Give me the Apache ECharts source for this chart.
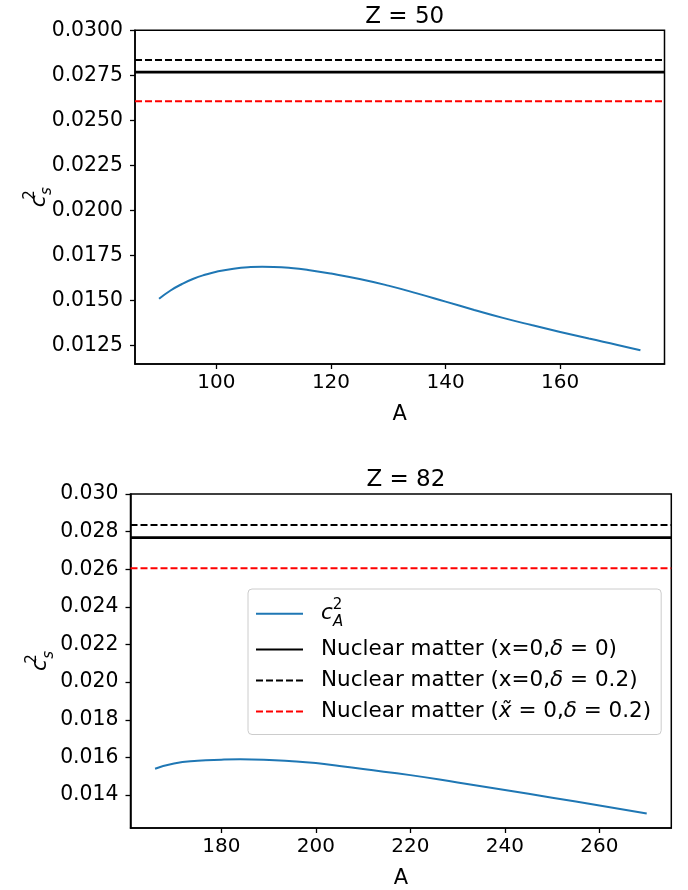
<!DOCTYPE html>
<html>
<head>
<meta charset="utf-8">
<script src="https://cdn.jsdelivr.net/npm/echarts@6/dist/echarts.min.js"></script>
<style>html,body{margin:0;padding:0;background:#fff}#c{width:688px;height:890px}</style>
</head>
<body>
<div id="c"></div>
<script>
// ---- data ----
const A_Z50 = [90, 92, 94, 96, 98, 100, 103, 106, 108, 110, 113, 116, 120, 125, 130, 135, 140, 145, 150, 155, 160, 165, 170, 174];
const c2_Z50 = [0.01510, 0.01556, 0.01592, 0.01621, 0.01643, 0.01660, 0.01677, 0.01686, 0.01688, 0.01687, 0.01681, 0.01670, 0.01650, 0.01620, 0.01583, 0.01540, 0.01494, 0.01448, 0.01404, 0.01364, 0.01326, 0.01289, 0.01254, 0.01224];
const A_Z82 = [166, 170, 175, 180, 184, 189, 195, 200, 205, 210, 220, 230, 240, 250, 260, 270];
const c2_Z82 = [0.01540, 0.01568, 0.01582, 0.01588, 0.01590, 0.01588, 0.01580, 0.01570, 0.01555, 0.01538, 0.01506, 0.01467, 0.01427, 0.01386, 0.01345, 0.01302];
const nmNames = ['Nuclear matter (x=0,δ = 0)', 'Nuclear matter (x=0,δ = 0.2)', 'Nuclear matter (x̃ = 0,δ = 0.2)'];
const nmValues = [0.02768, 0.02835, 0.02606];
const curveName = 'c_A^2';
const xTicks50 = [100, 120, 140, 160];
const yTicks50 = [0.0125, 0.0150, 0.0175, 0.0200, 0.0225, 0.0250, 0.0275, 0.0300];
const xTicks82 = [180, 200, 220, 240, 260];
const yTicks82 = [0.014, 0.016, 0.018, 0.020, 0.022, 0.024, 0.026, 0.028, 0.030];
const titles = ['Z = 50', 'Z = 82'];

// ---- styling ----
const FONT = 'DejaVu Sans';
const nmStyles = [
  {color: '#000000', width: 2.6, type: 'solid'},
  {color: '#000000', width: 2, type: [7, 3]},
  {color: '#ff0000', width: 2, type: [7, 3]}
];
function mathRich(fs) {
  return {
    t: {fontFamily: FONT, fontSize: fs, color: '#000', lineHeight: fs + 3},
    it: {fontFamily: FONT, fontSize: fs, fontStyle: 'italic', color: '#000', lineHeight: fs + 3},
    ci: {fontFamily: FONT, fontSize: fs, fontStyle: 'italic', color: '#000', lineHeight: fs + 10},
    sup: {fontFamily: FONT, fontSize: Math.round(fs * 0.68), color: '#000', lineHeight: Math.round(fs * 0.68), verticalAlign: 'top', width: 0.1},
    sub: {fontFamily: FONT, fontSize: Math.round(fs * 0.68), fontStyle: 'italic', color: '#000', lineHeight: Math.round(fs * 0.68), verticalAlign: 'bottom'}
  };
}
function legendFmt(name) {
  if (name === curveName) return '{ci|c}{sup|2}{sub|A}';
  if (name === nmNames[0]) return '{t|Nuclear matter (x=0,}{it|δ}{t| = 0)}';
  if (name === nmNames[1]) return '{t|Nuclear matter (x=0,}{it|δ}{t| = 0.2)}';
  return '{t|Nuclear matter (}{it|x̃}{t| = 0,}{it|δ}{t| = 0.2)}';
}

const grids = [
  {left: 135, right: 23.5, top: 30.3, height: 333.7},
  {left: 130.5, right: 16.7, top: 494, height: 334}
];
const xr = [[85.8, 178.2], [160.8, 275.2]];
const yr = [[0.01148, 0.0300], [0.01225, 0.0300]];
const xt = [xTicks50, xTicks82];
const yt = [yTicks50, yTicks82];
const ydec = [4, 3];

const option = {
  animation: false,
  backgroundColor: '#fff',
  title: titles.map((t, i) => ({
    text: t,
    left: grids[i].left + (688 - grids[i].left - grids[i].right) / 2,
    textAlign: 'center',
    top: i === 0 ? 1 : 464,
    textStyle: {fontFamily: FONT, fontSize: 23, fontWeight: 'normal', color: '#000'}
  })),
  grid: grids.map(g => Object.assign({show: true, borderColor: '#000', borderWidth: 1.5, backgroundColor: 'transparent', containLabel: false, outerBoundsMode: 'none'}, g)),
  xAxis: [0, 1].map(i => ({
    type: 'value', gridIndex: i, min: xr[i][0], max: xr[i][1],
    name: 'A', nameLocation: 'middle', nameGap: 40, nameMoveOverlap: false,
    nameTextStyle: {fontFamily: FONT, fontSize: 21, color: '#000'},
    axisLine: {show: true, onZero: false, lineStyle: {color: '#000', width: 1.5}},
    axisTick: {show: true, length: 5, lineStyle: {color: '#000', width: 1.3}, customValues: xt[i]},
    axisLabel: {show: true, margin: 9, fontFamily: FONT, fontSize: 20, color: '#000', customValues: xt[i], formatter: v => String(Math.round(v))},
    splitLine: {show: false}
  })),
  yAxis: [0, 1].map(i => ({
    type: 'value', gridIndex: i, min: yr[i][0], max: yr[i][1],
    name: '{ci|c}{sup|2}{sub|s}', nameLocation: 'middle', nameRotate: 90, nameGap: [80, 74][i], nameMoveOverlap: false,
    nameTextStyle: {rich: mathRich(22)},
    axisLine: {show: true, onZero: false, lineStyle: {color: '#000', width: 1.5}},
    axisTick: {show: true, length: 5, lineStyle: {color: '#000', width: 1.3}, customValues: yt[i]},
    axisLabel: {show: true, margin: 12, fontFamily: FONT, fontSize: 20.4, color: '#000', customValues: yt[i], formatter: v => v.toFixed(ydec[i])},
    splitLine: {show: false}
  })),
  legend: {
    show: true,
    orient: 'vertical',
    left: 248, top: 589,
    data: [curveName].concat(nmNames),
    itemWidth: 47, itemHeight: 14, itemGap: 9,
    padding: [9, 10, 12, 7],
    backgroundColor: '#fff',
    borderColor: '#cccccc', borderWidth: 1, borderRadius: 4,
    itemStyle: {opacity: 0},
    formatter: legendFmt,
    textStyle: {fontFamily: FONT, fontSize: 21.5, color: '#000', padding: [0, 0, 0, 13], rich: mathRich(21.5)}
  },
  series: []
};

const curves = [[A_Z50, c2_Z50], [A_Z82, c2_Z82]];
[0, 1].forEach(i => {
  option.series.push({
    type: 'line', name: curveName, xAxisIndex: i, yAxisIndex: i,
    data: curves[i][0].map((a, k) => [a, curves[i][1][k]]),
    smooth: 0.5, symbol: 'none',
    lineStyle: {color: '#1f77b4', width: 2}, itemStyle: {color: '#1f77b4'}
  });
  nmNames.forEach((n, k) => {
    option.series.push({
      type: 'line', name: n, xAxisIndex: i, yAxisIndex: i, symbol: 'none',
      data: [[xr[i][0], nmValues[k]], [xr[i][1], nmValues[k]]],
      lineStyle: nmStyles[k], itemStyle: {color: nmStyles[k].color}
    });
  });
});

const chart = echarts.init(document.getElementById('c'), null, {renderer: 'canvas'});
chart.setOption(option);
</script>
</body>
</html>
